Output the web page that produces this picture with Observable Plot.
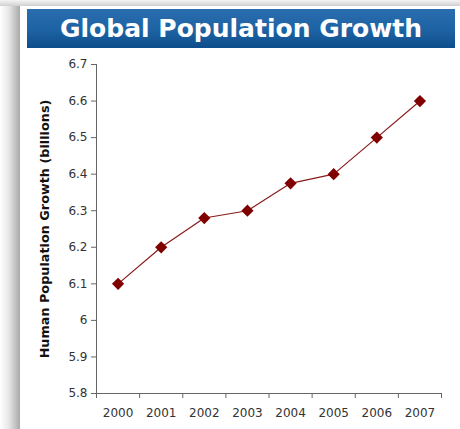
<!DOCTYPE html>
<html>
<head>
<meta charset="utf-8">
<script src="https://cdn.jsdelivr.net/npm/d3@7"></script>
<script src="https://cdn.jsdelivr.net/npm/@observablehq/plot@0.6"></script>
<style>
  html, body { margin: 0; padding: 0; background: #fff; }
  #page { position: relative; width: 460px; height: 429px; overflow: hidden; background: #fff; font-family: "DejaVu Sans", Verdana, sans-serif; }
  #shadowLeft { position: absolute; left: 0; top: 0; width: 20px; height: 429px;
    background: linear-gradient(to right, #ffffff 0%, #e6e6e6 45%, #a9a9a9 100%); }
  #shadowTop { position: absolute; left: 0; top: 0; width: 460px; height: 6px;
    background: linear-gradient(to bottom, #f4f4f4 0%, #d0d0d0 100%); }
  #card { position: absolute; left: 20px; top: 6px; width: 440px; height: 423px; background: #fff; }
  #banner { position: absolute; left: 27px; top: 9px; width: 428px; height: 39px;
    background: linear-gradient(to bottom, #2a6dae 0%, #1d62a3 55%, #0e4d8b 100%);
    color: #fff; font: bold 25px "DejaVu Sans", Verdana, sans-serif; text-align: center; line-height: 39px; }
  #chart { position: absolute; left: 20px; top: 48px; }
</style>
</head>
<body>
<div id="page">
  <div id="shadowLeft"></div>
  <div id="shadowTop"></div>
  <div id="card"></div>
  <div id="banner">Global Population Growth</div>
  <div id="chart"></div>
</div>
<script>
// World population by year, in billions
const years = [2000, 2001, 2002, 2003, 2004, 2005, 2006, 2007];
const population = [6.1, 6.2, 6.28, 6.3, 6.375, 6.4, 6.5, 6.6];
const yTicks = [5.8, 5.9, 6.0, 6.1, 6.2, 6.3, 6.4, 6.5, 6.6, 6.7];

const data = years.map((year, i) => ({year, value: population[i]}));
// Tick marks sit between the years, labels sit on the years
const boundaries = d3.range(years[0] - 0.5, years[years.length - 1] + 1, 1);

const axisColor = "#666";
const chart = Plot.plot({
  width: 440,
  height: 381,
  marginLeft: 76,
  marginRight: 19,
  marginTop: 16,
  marginBottom: 36,
  style: {fontFamily: "'DejaVu Sans', Verdana, sans-serif", fontSize: "12px", color: "#333", background: "transparent"},
  x: {domain: [years[0] - 0.5, years[years.length - 1] + 0.5]},
  y: {domain: [5.8, 6.7]},
  marks: [
    Plot.ruleY([5.8], {stroke: axisColor}),
    Plot.ruleX([years[0] - 0.5], {stroke: axisColor}),
    Plot.axisX({ticks: boundaries, tickSize: 5, tickFormat: () => "", stroke: axisColor, label: null}),
    Plot.axisX({ticks: years, tickSize: 0, tickPadding: 15, tickFormat: d => String(d), fill: "#333", label: null}),
    Plot.axisY({ticks: yTicks, tickSize: 5, tickPadding: 4, stroke: axisColor, fill: "#333",
      tickFormat: d => d3.format("")(+d.toFixed(1)),
      label: "Human Population Growth (billions)", labelAnchor: "center", labelArrow: "none", labelOffset: 57}),
    Plot.line(data, {x: "year", y: "value", stroke: "#8b1a1a", strokeWidth: 1.2}),
    Plot.dot(data, {x: "year", y: "value", symbol: "diamond2", r: 5.5, fill: "#800000", stroke: "none"})
  ]
});
// Bold axis title
chart.querySelectorAll("g[aria-label='y-axis label'] text").forEach(t => {
  t.style.fontWeight = "bold";
  t.style.fontSize = "12.8px";
  t.style.fill = "#111";
});
document.getElementById("chart").appendChild(chart);
</script>
</body>
</html>
